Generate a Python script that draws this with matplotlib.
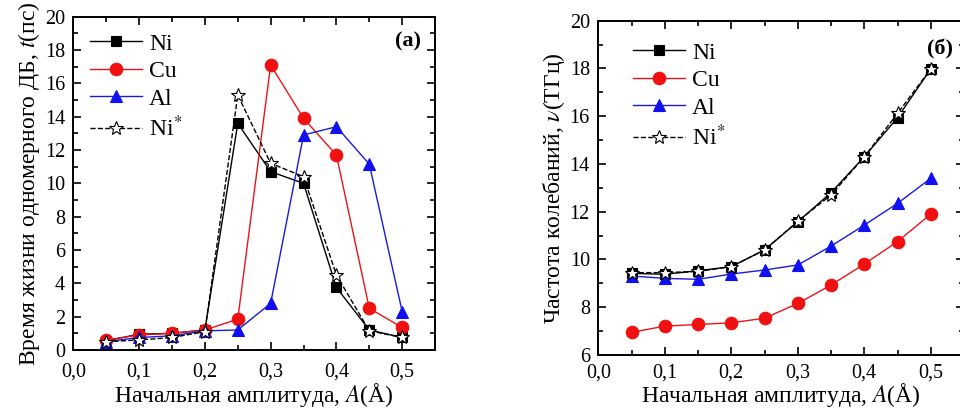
import matplotlib
matplotlib.use("Agg")
import matplotlib.pyplot as plt
from matplotlib.ticker import MultipleLocator, FuncFormatter

# =========================
# данные
# =========================

amplitude = [0.05, 0.10, 0.15, 0.20, 0.25, 0.30, 0.35, 0.40, 0.45, 0.50]

# время жизни ДБ, пс
life_ni = [0.55, 0.95, 1.0, 1.2, 13.6, 10.7, 10.0, 3.75, 1.2, 0.75]
life_cu = [0.6, 0.9, 1.0, 1.2, 1.85, 17.1, 13.9, 11.7, 2.5, 1.35]
life_al = [0.5, 0.75, 0.85, 1.15, 1.2, 2.8, 12.9, 13.4, 11.15, 2.3]
life_ni_star = [0.5, 0.6, 0.75, 1.1, 15.3, 11.2, 10.4, 4.5, 1.15, 0.75]

# частота колебаний, ТГц
freq_ni = [9.42, 9.38, 9.53, 9.7, 10.4, 11.58, 12.8, 14.3, 15.94, 17.98]
freq_cu = [6.95, 7.21, 7.28, 7.35, 7.54, 8.16, 8.93, 9.81, 10.75, 11.9]
freq_al = [9.31, 9.21, 9.17, 9.39, 9.56, 9.77, 10.56, 11.44, 12.35, 13.4]
freq_ni_star = [9.45, 9.45, 9.5, 9.7, 10.4, 11.6, 12.7, 14.3, 16.12, 17.98]

labels = ["Ni", "Cu", "Al", "Ni$^{*}$"]

plt.rcParams["font.family"] = ["Liberation Serif", "DejaVu Serif"]
plt.rcParams["mathtext.fontset"] = "stix"

comma = FuncFormatter(lambda v, pos: f"{v:.1f}".replace(".", ","))


def draw_panel(ax, series, ylim, ylabel, tag, tag_xy, legend_anchor,
               xtick_pad, xpad):
    styles = [
        dict(color="black", marker="s", ls="-", mfc="black", mec="black"),
        dict(color="#e8141b", marker="o", ls="-", mfc="#f01010", mec="#f01010"),
        dict(color="#1a1ad8", marker="^", ls="-", mfc="#1010f0", mec="#1010f0"),
        dict(color="black", marker="*", ls="--", mfc="white", mec="black"),
    ]
    sizes = [7.5, 9, 9, 10.5]
    for vals, lab, st, ms in zip(series, labels, styles, sizes):
        ax.plot(amplitude, vals, lw=1.0, ms=ms, mew=0.8, label=lab, **st)

    ax.set_xlim(0, 0.55)
    ax.set_ylim(*ylim)
    ax.xaxis.set_major_locator(MultipleLocator(0.1))
    ax.xaxis.set_minor_locator(MultipleLocator(0.05))
    ax.yaxis.set_major_locator(MultipleLocator(2))
    ax.yaxis.set_minor_locator(MultipleLocator(1))
    ax.xaxis.set_major_formatter(comma)
    ax.tick_params(which="both", direction="in", top=True, right=True,
                   labelsize=14.5, width=1.2)
    ax.tick_params(which="major", length=6)
    ax.tick_params(which="minor", length=3.5)
    ax.tick_params(axis="x", which="major", pad=xtick_pad)
    ax.tick_params(axis="y", which="major", pad=6)
    for sp in ax.spines.values():
        sp.set_linewidth(1.4)

    ax.set_xlabel("Начальная амплитуда, $A$(Å)", fontsize=17, labelpad=xpad)
    ax.set_ylabel(ylabel, fontsize=17, labelpad=2)
    ax.text(*tag_xy, tag, transform=ax.transAxes, fontsize=16,
            fontweight="bold", ha="center", va="center")

    ax.legend(loc="upper left", bbox_to_anchor=legend_anchor, frameon=False,
              fontsize=17, handlelength=2.2, handletextpad=0.3,
              labelspacing=0.25, borderpad=0.2)


fig = plt.figure(figsize=(9.6, 4.12), dpi=100)

# =========================
# (a) время жизни
# =========================
ax1 = fig.add_axes([0.0764, 0.1505, 0.3768, 0.809])
draw_panel(ax1, [life_ni, life_cu, life_al, life_ni_star], (0, 20),
           "Время жизни одномерного ДБ, $t$(пс)", "(a)", (0.925, 0.925),
           (0.0, 1.0), 9, 0)

# =========================
# (б) частота колебаний
# =========================
ax2 = fig.add_axes([0.6232, 0.1383, 0.381, 0.8115])
draw_panel(ax2, [freq_ni, freq_cu, freq_al, freq_ni_star], (6, 20),
           "Частота колебаний, $\\nu$(ТГц)", "(б)", (0.935, 0.915),
           (0.05, 0.985), 6, -1)

fig.savefig("out.png", dpi=100)
